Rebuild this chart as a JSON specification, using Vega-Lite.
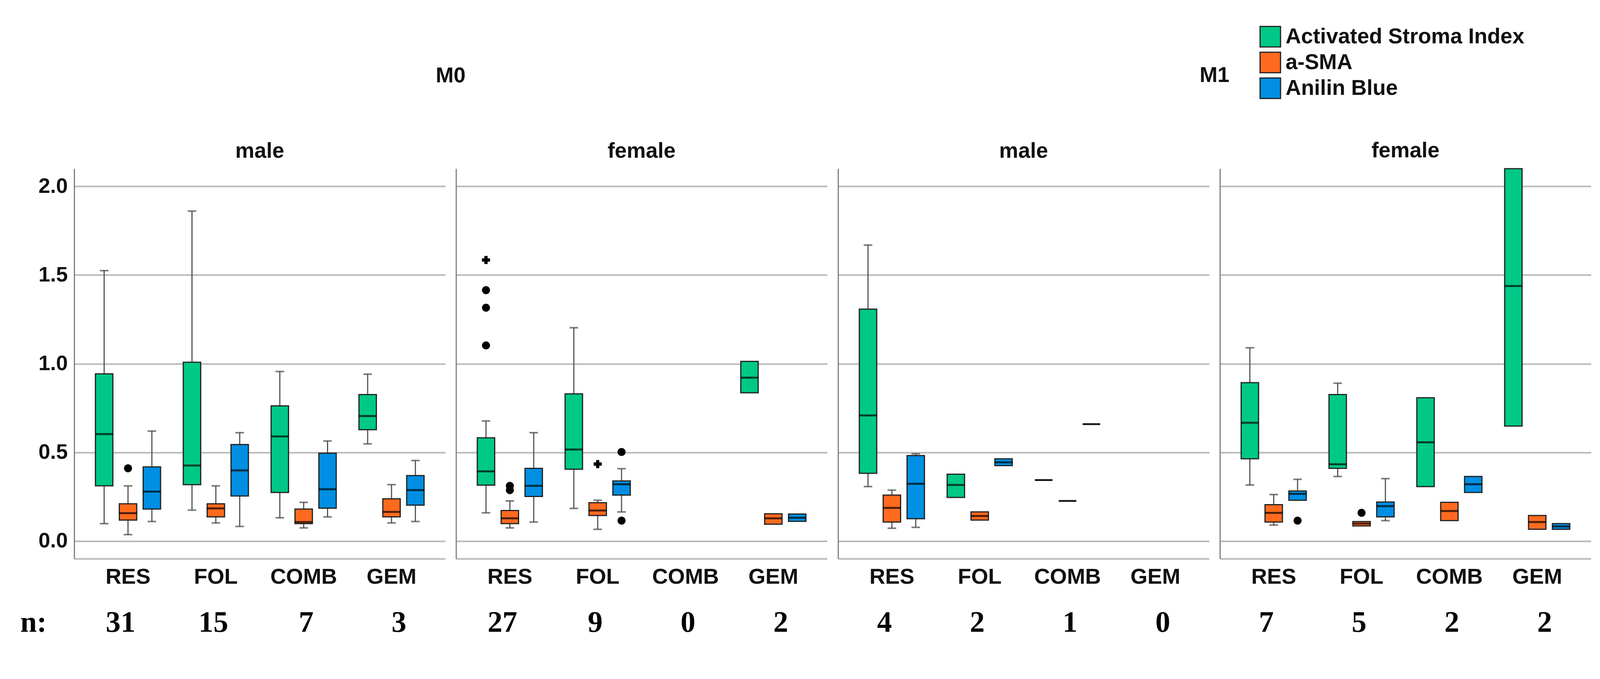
{
  "$schema": "https://vega.github.io/schema/vega-lite/v6.json",
  "padding": {"left": 51, "top": 66, "right": 31, "bottom": 37},
  "datasets": {
    "boxes": [
      {"M":"M0","sex":"male","cat":"RES","measure":"Activated Stroma Index","lo":0.098,"q1":0.311,"med":0.603,"q3":0.943,"hi":1.525},
      {"M":"M0","sex":"male","cat":"RES","measure":"a-SMA","lo":0.036,"q1":0.118,"med":0.157,"q3":0.21,"hi":0.311},
      {"M":"M0","sex":"male","cat":"RES","measure":"Anilin Blue","lo":0.11,"q1":0.18,"med":0.279,"q3":0.418,"hi":0.62},
      {"M":"M0","sex":"male","cat":"FOL","measure":"Activated Stroma Index","lo":0.174,"q1":0.318,"med":0.426,"q3":1.008,"hi":1.861},
      {"M":"M0","sex":"male","cat":"FOL","measure":"a-SMA","lo":0.102,"q1":0.136,"med":0.184,"q3":0.21,"hi":0.311},
      {"M":"M0","sex":"male","cat":"FOL","measure":"Anilin Blue","lo":0.082,"q1":0.254,"med":0.398,"q3":0.544,"hi":0.611},
      {"M":"M0","sex":"male","cat":"COMB","measure":"Activated Stroma Index","lo":0.131,"q1":0.274,"med":0.59,"q3":0.762,"hi":0.956},
      {"M":"M0","sex":"male","cat":"COMB","measure":"a-SMA","lo":0.074,"q1":0.098,"med":0.107,"q3":0.18,"hi":0.218},
      {"M":"M0","sex":"male","cat":"COMB","measure":"Anilin Blue","lo":0.136,"q1":0.185,"med":0.292,"q3":0.495,"hi":0.564},
      {"M":"M0","sex":"male","cat":"GEM","measure":"Activated Stroma Index","lo":0.548,"q1":0.628,"med":0.705,"q3":0.826,"hi":0.941},
      {"M":"M0","sex":"male","cat":"GEM","measure":"a-SMA","lo":0.102,"q1":0.136,"med":0.164,"q3":0.238,"hi":0.318},
      {"M":"M0","sex":"male","cat":"GEM","measure":"Anilin Blue","lo":0.11,"q1":0.202,"med":0.287,"q3":0.369,"hi":0.454},
      {"M":"M0","sex":"female","cat":"RES","measure":"Activated Stroma Index","lo":0.159,"q1":0.315,"med":0.393,"q3":0.582,"hi":0.677},
      {"M":"M0","sex":"female","cat":"RES","measure":"a-SMA","lo":0.074,"q1":0.098,"med":0.128,"q3":0.172,"hi":0.226},
      {"M":"M0","sex":"female","cat":"RES","measure":"Anilin Blue","lo":0.107,"q1":0.251,"med":0.311,"q3":0.41,"hi":0.611},
      {"M":"M0","sex":"female","cat":"FOL","measure":"Activated Stroma Index","lo":0.184,"q1":0.405,"med":0.516,"q3":0.83,"hi":1.203},
      {"M":"M0","sex":"female","cat":"FOL","measure":"a-SMA","lo":0.066,"q1":0.144,"med":0.172,"q3":0.216,"hi":0.23},
      {"M":"M0","sex":"female","cat":"FOL","measure":"Anilin Blue","lo":0.164,"q1":0.259,"med":0.32,"q3":0.339,"hi":0.408},
      {"M":"M0","sex":"female","cat":"GEM","measure":"Activated Stroma Index","lo":null,"q1":0.836,"med":0.921,"q3":1.013,"hi":null},
      {"M":"M0","sex":"female","cat":"GEM","measure":"a-SMA","lo":null,"q1":0.095,"med":0.128,"q3":0.154,"hi":null},
      {"M":"M0","sex":"female","cat":"GEM","measure":"Anilin Blue","lo":null,"q1":0.111,"med":0.131,"q3":0.152,"hi":null},
      {"M":"M1","sex":"male","cat":"RES","measure":"Activated Stroma Index","lo":0.307,"q1":0.382,"med":0.708,"q3":1.308,"hi":1.669},
      {"M":"M1","sex":"male","cat":"RES","measure":"a-SMA","lo":0.072,"q1":0.107,"med":0.187,"q3":0.259,"hi":0.287},
      {"M":"M1","sex":"male","cat":"RES","measure":"Anilin Blue","lo":0.077,"q1":0.126,"med":0.323,"q3":0.482,"hi":0.492},
      {"M":"M1","sex":"male","cat":"FOL","measure":"Activated Stroma Index","lo":null,"q1":0.246,"med":0.316,"q3":0.377,"hi":null},
      {"M":"M1","sex":"male","cat":"FOL","measure":"a-SMA","lo":null,"q1":0.118,"med":0.141,"q3":0.164,"hi":null},
      {"M":"M1","sex":"male","cat":"FOL","measure":"Anilin Blue","lo":null,"q1":0.425,"med":0.444,"q3":0.464,"hi":null},
      {"M":"M1","sex":"male","cat":"COMB","measure":"Activated Stroma Index","lo":null,"q1":0.344,"med":0.344,"q3":0.344,"hi":null},
      {"M":"M1","sex":"male","cat":"COMB","measure":"a-SMA","lo":null,"q1":0.226,"med":0.226,"q3":0.226,"hi":null},
      {"M":"M1","sex":"male","cat":"COMB","measure":"Anilin Blue","lo":null,"q1":0.659,"med":0.659,"q3":0.659,"hi":null},
      {"M":"M1","sex":"female","cat":"RES","measure":"Activated Stroma Index","lo":0.316,"q1":0.464,"med":0.667,"q3":0.893,"hi":1.09},
      {"M":"M1","sex":"female","cat":"RES","measure":"a-SMA","lo":0.09,"q1":0.107,"med":0.159,"q3":0.205,"hi":0.262},
      {"M":"M1","sex":"female","cat":"RES","measure":"Anilin Blue","lo":null,"q1":0.23,"med":0.266,"q3":0.282,"hi":0.348},
      {"M":"M1","sex":"female","cat":"FOL","measure":"Activated Stroma Index","lo":0.364,"q1":0.41,"med":0.433,"q3":0.826,"hi":0.89},
      {"M":"M1","sex":"female","cat":"FOL","measure":"a-SMA","lo":null,"q1":0.085,"med":0.098,"q3":0.11,"hi":null},
      {"M":"M1","sex":"female","cat":"FOL","measure":"Anilin Blue","lo":0.115,"q1":0.136,"med":0.197,"q3":0.22,"hi":0.352},
      {"M":"M1","sex":"female","cat":"COMB","measure":"Activated Stroma Index","lo":null,"q1":0.307,"med":0.557,"q3":0.808,"hi":null},
      {"M":"M1","sex":"female","cat":"COMB","measure":"a-SMA","lo":null,"q1":0.115,"med":0.169,"q3":0.218,"hi":null},
      {"M":"M1","sex":"female","cat":"COMB","measure":"Anilin Blue","lo":null,"q1":0.274,"med":0.32,"q3":0.364,"hi":null},
      {"M":"M1","sex":"female","cat":"GEM","measure":"Activated Stroma Index","lo":null,"q1":0.648,"med":1.438,"q3":2.1,"hi":null},
      {"M":"M1","sex":"female","cat":"GEM","measure":"a-SMA","lo":null,"q1":0.066,"med":0.107,"q3":0.144,"hi":null},
      {"M":"M1","sex":"female","cat":"GEM","measure":"Anilin Blue","lo":null,"q1":0.066,"med":0.082,"q3":0.098,"hi":null}
    ],
    "outliers": [
      {"M":"M0","sex":"male","cat":"RES","measure":"a-SMA","value":0.41,"type":"outlier"},
      {"M":"M0","sex":"female","cat":"RES","measure":"Activated Stroma Index","value":1.585,"type":"extreme"},
      {"M":"M0","sex":"female","cat":"RES","measure":"Activated Stroma Index","value":1.415,"type":"outlier"},
      {"M":"M0","sex":"female","cat":"RES","measure":"Activated Stroma Index","value":1.316,"type":"outlier"},
      {"M":"M0","sex":"female","cat":"RES","measure":"Activated Stroma Index","value":1.103,"type":"outlier"},
      {"M":"M0","sex":"female","cat":"RES","measure":"a-SMA","value":0.311,"type":"outlier"},
      {"M":"M0","sex":"female","cat":"RES","measure":"a-SMA","value":0.287,"type":"outlier"},
      {"M":"M0","sex":"female","cat":"FOL","measure":"a-SMA","value":0.434,"type":"extreme"},
      {"M":"M0","sex":"female","cat":"FOL","measure":"Anilin Blue","value":0.502,"type":"outlier"},
      {"M":"M0","sex":"female","cat":"FOL","measure":"Anilin Blue","value":0.115,"type":"outlier"},
      {"M":"M1","sex":"female","cat":"RES","measure":"Anilin Blue","value":0.115,"type":"outlier"},
      {"M":"M1","sex":"female","cat":"FOL","measure":"a-SMA","value":0.159,"type":"outlier"}
    ],
    "counts": [
      {"M":"M0","sex":"male","cat":"RES","n":31,"row":"n:"},
      {"M":"M0","sex":"male","cat":"FOL","n":15,"row":"n:"},
      {"M":"M0","sex":"male","cat":"COMB","n":7,"row":"n:"},
      {"M":"M0","sex":"male","cat":"GEM","n":3,"row":"n:"},
      {"M":"M0","sex":"female","cat":"RES","n":27,"row":"n:"},
      {"M":"M0","sex":"female","cat":"FOL","n":9,"row":"n:"},
      {"M":"M0","sex":"female","cat":"COMB","n":0,"row":"n:"},
      {"M":"M0","sex":"female","cat":"GEM","n":2,"row":"n:"},
      {"M":"M1","sex":"male","cat":"RES","n":4,"row":"n:"},
      {"M":"M1","sex":"male","cat":"FOL","n":2,"row":"n:"},
      {"M":"M1","sex":"male","cat":"COMB","n":1,"row":"n:"},
      {"M":"M1","sex":"male","cat":"GEM","n":0,"row":"n:"},
      {"M":"M1","sex":"female","cat":"RES","n":7,"row":"n:"},
      {"M":"M1","sex":"female","cat":"FOL","n":5,"row":"n:"},
      {"M":"M1","sex":"female","cat":"COMB","n":2,"row":"n:"},
      {"M":"M1","sex":"female","cat":"GEM","n":2,"row":"n:"}
    ]
  },
  "vconcat": [
    {
      "hconcat": [
        {
          "title": {"text": "M0", "offset": 137, "dx": 69},
          "hconcat": [
            {
              "width": 950, "height": 999,
              "title": {"text": "male"},
              "data": {"name": "boxes"},
              "transform": [{"filter": "datum.M === 'M0' && datum.sex === 'male'"}],
              "encoding": {
                "x": {"field": "cat", "type": "nominal", "title": null, "scale": {"domain": ["RES","FOL","COMB","GEM"], "paddingInner": 0.185, "paddingOuter": 0.205}},
                "xOffset": {"field": "measure", "type": "nominal", "scale": {"domain": ["Activated Stroma Index","a-SMA","Anilin Blue"], "paddingInner": 0.27, "paddingOuter": 0.135}}
              },
              "layer": [
                {
                  "transform": [{"fold": ["lo","hi"], "as": ["end","value"]}, {"filter": "isValid(datum.value)"}],
                  "mark": {"type": "rule", "color": "#555555", "strokeWidth": 3},
                  "encoding": {
                    "y": {"field": "value", "type": "quantitative", "title": null, "scale": {"domain": [-0.1, 2.1], "nice": false, "zero": false}, "axis": {"values": [0, 0.5, 1, 1.5, 2], "format": ".1f", "minExtent": 138}},
                    "y2": {"field": "med"}
                  }
                },
                {
                  "transform": [{"fold": ["lo","hi"], "as": ["end","value"]}, {"filter": "isValid(datum.value)"}],
                  "mark": {"type": "tick", "color": "#444444", "size": 22, "thickness": 4},
                  "encoding": {"y": {"field": "value", "type": "quantitative", "title": null}}
                },
                {
                  "mark": {"type": "bar", "stroke": "#222222", "strokeWidth": 3},
                  "encoding": {
                    "y": {"field": "q1", "type": "quantitative", "title": null},
                    "y2": {"field": "q3"},
                    "color": {"field": "measure", "type": "nominal", "scale": {"domain": ["Activated Stroma Index","a-SMA","Anilin Blue"], "range": ["#00c887","#ff6a1f","#008fe2"]}, "legend": {"title": null, "orient": "none", "legendX": 3034, "legendY": -366}}
                  }
                },
                {
                  "mark": {"type": "tick", "color": "#000000", "size": 45, "thickness": 5},
                  "encoding": {"y": {"field": "med", "type": "quantitative", "title": null}}
                },
                {
                  "data": {"name": "outliers"},
                  "transform": [{"filter": "datum.M === 'M0' && datum.sex === 'male'"}],
                  "mark": {"type": "point", "filled": true, "color": "#000000", "size": 430, "opacity": 1},
                  "encoding": {
                    "y": {"field": "value", "type": "quantitative", "title": null},
                    "shape": {"field": "type", "type": "nominal", "scale": {"domain": ["outlier","extreme"], "range": ["circle","cross"]}, "legend": null}
                  }
                }
              ]
            },
            {
              "width": 950, "height": 999,
              "title": {"text": "female"},
              "data": {"name": "boxes"},
              "transform": [{"filter": "datum.M === 'M0' && datum.sex === 'female'"}],
              "encoding": {
                "x": {"field": "cat", "type": "nominal", "title": null, "scale": {"domain": ["RES","FOL","COMB","GEM"], "paddingInner": 0.185, "paddingOuter": 0.205}},
                "xOffset": {"field": "measure", "type": "nominal", "scale": {"domain": ["Activated Stroma Index","a-SMA","Anilin Blue"], "paddingInner": 0.27, "paddingOuter": 0.135}}
              },
              "layer": [
                {
                  "transform": [{"fold": ["lo","hi"], "as": ["end","value"]}, {"filter": "isValid(datum.value)"}],
                  "mark": {"type": "rule", "color": "#555555", "strokeWidth": 3},
                  "encoding": {
                    "y": {"field": "value", "type": "quantitative", "title": null, "scale": {"domain": [-0.1, 2.1], "nice": false, "zero": false}, "axis": {"values": [0, 0.5, 1, 1.5, 2], "labels": false}},
                    "y2": {"field": "med"}
                  }
                },
                {
                  "transform": [{"fold": ["lo","hi"], "as": ["end","value"]}, {"filter": "isValid(datum.value)"}],
                  "mark": {"type": "tick", "color": "#444444", "size": 22, "thickness": 4},
                  "encoding": {"y": {"field": "value", "type": "quantitative", "title": null}}
                },
                {
                  "mark": {"type": "bar", "stroke": "#222222", "strokeWidth": 3},
                  "encoding": {
                    "y": {"field": "q1", "type": "quantitative", "title": null},
                    "y2": {"field": "q3"},
                    "color": {"field": "measure", "type": "nominal", "scale": {"domain": ["Activated Stroma Index","a-SMA","Anilin Blue"], "range": ["#00c887","#ff6a1f","#008fe2"]}, "legend": {"title": null, "orient": "none", "legendX": 3034, "legendY": -366}}
                  }
                },
                {
                  "mark": {"type": "tick", "color": "#000000", "size": 45, "thickness": 5},
                  "encoding": {"y": {"field": "med", "type": "quantitative", "title": null}}
                },
                {
                  "data": {"name": "outliers"},
                  "transform": [{"filter": "datum.M === 'M0' && datum.sex === 'female'"}],
                  "mark": {"type": "point", "filled": true, "color": "#000000", "size": 430, "opacity": 1},
                  "encoding": {
                    "y": {"field": "value", "type": "quantitative", "title": null},
                    "shape": {"field": "type", "type": "nominal", "scale": {"domain": ["outlier","extreme"], "range": ["circle","cross"]}, "legend": null}
                  }
                }
              ]
            }
          ]
        },
        {
          "title": {"text": "M1", "offset": 137, "dx": 0},
          "hconcat": [
            {
              "width": 950, "height": 999,
              "title": {"text": "male"},
              "data": {"name": "boxes"},
              "transform": [{"filter": "datum.M === 'M1' && datum.sex === 'male'"}],
              "encoding": {
                "x": {"field": "cat", "type": "nominal", "title": null, "scale": {"domain": ["RES","FOL","COMB","GEM"], "paddingInner": 0.185, "paddingOuter": 0.205}},
                "xOffset": {"field": "measure", "type": "nominal", "scale": {"domain": ["Activated Stroma Index","a-SMA","Anilin Blue"], "paddingInner": 0.27, "paddingOuter": 0.135}}
              },
              "layer": [
                {
                  "transform": [{"fold": ["lo","hi"], "as": ["end","value"]}, {"filter": "isValid(datum.value)"}],
                  "mark": {"type": "rule", "color": "#555555", "strokeWidth": 3},
                  "encoding": {
                    "y": {"field": "value", "type": "quantitative", "title": null, "scale": {"domain": [-0.1, 2.1], "nice": false, "zero": false}, "axis": {"values": [0, 0.5, 1, 1.5, 2], "labels": false}},
                    "y2": {"field": "med"}
                  }
                },
                {
                  "transform": [{"fold": ["lo","hi"], "as": ["end","value"]}, {"filter": "isValid(datum.value)"}],
                  "mark": {"type": "tick", "color": "#444444", "size": 22, "thickness": 4},
                  "encoding": {"y": {"field": "value", "type": "quantitative", "title": null}}
                },
                {
                  "mark": {"type": "bar", "stroke": "#222222", "strokeWidth": 3},
                  "encoding": {
                    "y": {"field": "q1", "type": "quantitative", "title": null},
                    "y2": {"field": "q3"},
                    "color": {"field": "measure", "type": "nominal", "scale": {"domain": ["Activated Stroma Index","a-SMA","Anilin Blue"], "range": ["#00c887","#ff6a1f","#008fe2"]}, "legend": {"title": null, "orient": "none", "legendX": 3034, "legendY": -366}}
                  }
                },
                {
                  "mark": {"type": "tick", "color": "#000000", "size": 45, "thickness": 5},
                  "encoding": {"y": {"field": "med", "type": "quantitative", "title": null}}
                }
              ]
            },
            {
              "width": 950, "height": 999,
              "title": {"text": "female"},
              "data": {"name": "boxes"},
              "transform": [{"filter": "datum.M === 'M1' && datum.sex === 'female'"}],
              "encoding": {
                "x": {"field": "cat", "type": "nominal", "title": null, "scale": {"domain": ["RES","FOL","COMB","GEM"], "paddingInner": 0.185, "paddingOuter": 0.205}},
                "xOffset": {"field": "measure", "type": "nominal", "scale": {"domain": ["Activated Stroma Index","a-SMA","Anilin Blue"], "paddingInner": 0.27, "paddingOuter": 0.135}}
              },
              "layer": [
                {
                  "transform": [{"fold": ["lo","hi"], "as": ["end","value"]}, {"filter": "isValid(datum.value)"}],
                  "mark": {"type": "rule", "color": "#555555", "strokeWidth": 3},
                  "encoding": {
                    "y": {"field": "value", "type": "quantitative", "title": null, "scale": {"domain": [-0.1, 2.1], "nice": false, "zero": false}, "axis": {"values": [0, 0.5, 1, 1.5, 2], "labels": false}},
                    "y2": {"field": "med"}
                  }
                },
                {
                  "transform": [{"fold": ["lo","hi"], "as": ["end","value"]}, {"filter": "isValid(datum.value)"}],
                  "mark": {"type": "tick", "color": "#444444", "size": 22, "thickness": 4},
                  "encoding": {"y": {"field": "value", "type": "quantitative", "title": null}}
                },
                {
                  "mark": {"type": "bar", "stroke": "#222222", "strokeWidth": 3},
                  "encoding": {
                    "y": {"field": "q1", "type": "quantitative", "title": null},
                    "y2": {"field": "q3"},
                    "color": {"field": "measure", "type": "nominal", "scale": {"domain": ["Activated Stroma Index","a-SMA","Anilin Blue"], "range": ["#00c887","#ff6a1f","#008fe2"]}, "legend": {"title": null, "orient": "none", "legendX": 3034, "legendY": -366}}
                  }
                },
                {
                  "mark": {"type": "tick", "color": "#000000", "size": 45, "thickness": 5},
                  "encoding": {"y": {"field": "med", "type": "quantitative", "title": null}}
                },
                {
                  "data": {"name": "outliers"},
                  "transform": [{"filter": "datum.M === 'M1' && datum.sex === 'female'"}],
                  "mark": {"type": "point", "filled": true, "color": "#000000", "size": 430, "opacity": 1},
                  "encoding": {
                    "y": {"field": "value", "type": "quantitative", "title": null},
                    "shape": {"field": "type", "type": "nominal", "scale": {"domain": ["outlier","extreme"], "range": ["circle","cross"]}, "legend": null}
                  }
                }
              ]
            }
          ]
        }
      ]
    },
    {
      "hconcat": [
        {
          "hconcat": [
            {
              "width": 950, "height": 97,
              "data": {"name": "counts"},
              "transform": [{"filter": "datum.M === 'M0' && datum.sex === 'male'"}],
              "mark": {"type": "text", "font": "Liberation Serif", "fontWeight": "bold", "fontSize": 76, "baseline": "middle", "color": "#000000"},
              "encoding": {
                "x": {"field": "cat", "type": "nominal", "axis": null, "scale": {"domain": ["RES","FOL","COMB","GEM"], "paddingInner": 0.185, "paddingOuter": 0.205}},
                "y": {"field": "row", "type": "nominal", "title": null, "axis": {"labelFont": "Liberation Serif", "labelFontSize": 76, "labelFontWeight": "bold", "labelColor": "#000000", "labelPadding": 71, "domain": false, "ticks": false, "grid": false, "minExtent": 138}},
                "text": {"field": "n", "type": "quantitative"}
              }
            },
            {
              "width": 950, "height": 97,
              "data": {"name": "counts"},
              "transform": [{"filter": "datum.M === 'M0' && datum.sex === 'female'"}],
              "mark": {"type": "text", "font": "Liberation Serif", "fontWeight": "bold", "fontSize": 76, "baseline": "middle", "color": "#000000"},
              "encoding": {
                "x": {"field": "cat", "type": "nominal", "axis": null, "scale": {"domain": ["RES","FOL","COMB","GEM"], "paddingInner": 0.185, "paddingOuter": 0.205}},
                "y": {"field": "row", "type": "nominal", "axis": null},
                "text": {"field": "n", "type": "quantitative"}
              }
            }
          ]
        },
        {
          "hconcat": [
            {
              "width": 950, "height": 97,
              "data": {"name": "counts"},
              "transform": [{"filter": "datum.M === 'M1' && datum.sex === 'male'"}],
              "mark": {"type": "text", "font": "Liberation Serif", "fontWeight": "bold", "fontSize": 76, "baseline": "middle", "color": "#000000"},
              "encoding": {
                "x": {"field": "cat", "type": "nominal", "axis": null, "scale": {"domain": ["RES","FOL","COMB","GEM"], "paddingInner": 0.185, "paddingOuter": 0.205}},
                "y": {"field": "row", "type": "nominal", "axis": null},
                "text": {"field": "n", "type": "quantitative"}
              }
            },
            {
              "width": 950, "height": 97,
              "data": {"name": "counts"},
              "transform": [{"filter": "datum.M === 'M1' && datum.sex === 'female'"}],
              "mark": {"type": "text", "font": "Liberation Serif", "fontWeight": "bold", "fontSize": 76, "baseline": "middle", "color": "#000000"},
              "encoding": {
                "x": {"field": "cat", "type": "nominal", "axis": null, "scale": {"domain": ["RES","FOL","COMB","GEM"], "paddingInner": 0.185, "paddingOuter": 0.205}},
                "y": {"field": "row", "type": "nominal", "axis": null},
                "text": {"field": "n", "type": "quantitative"}
              }
            }
          ]
        }
      ]
    }
  ],
  "spacing": 41,
  "config": {
    "view": {"stroke": null},
    "font": "Liberation Sans",
    "concat": {"spacing": 27.5},
    "axis": {"labelFont": "Liberation Sans", "labelFontWeight": "bold", "labelColor": "#111111", "ticks": false},
    "axisX": {"labelFontSize": 56, "labelPadding": 19, "domainColor": "#c4c4c4", "domainWidth": 5, "grid": false, "labelAngle": 0},
    "axisY": {"labelFontSize": 54, "labelPadding": 17, "domainColor": "#7f7f7f", "domainWidth": 3, "gridColor": "#b9b9b9", "gridWidth": 4, "gridOpacity": 1},
    "title": {"font": "Liberation Sans", "fontWeight": "bold", "fontSize": 55, "color": "#111111", "baseline": "alphabetic", "offset": 16, "anchor": "middle"},
    "legend": {"labelFont": "Liberation Sans", "labelFontSize": 55, "labelFontWeight": "bold", "labelColor": "#111111", "labelLimit": 0, "symbolType": "square", "symbolSize": 2744, "symbolStrokeColor": "#222222", "symbolStrokeWidth": 3, "labelOffset": 11, "rowPadding": 0, "padding": 0}
  }
}
